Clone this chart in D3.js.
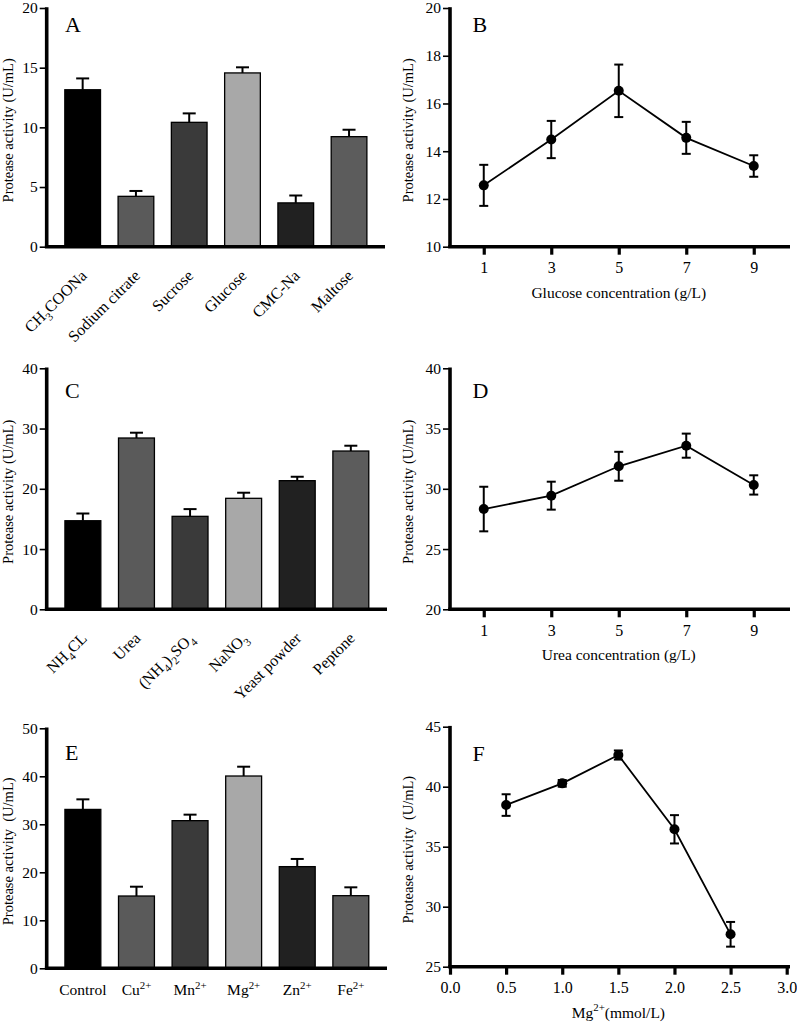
<!DOCTYPE html>
<html><head><meta charset="utf-8">
<script src="https://cdn.jsdelivr.net/npm/d3@7"></script>
<style>body{margin:0;background:#fff}</style>
</head><body><svg id="c" width="797" height="1028"></svg>
<script>
// ---------- DATA ----------
const carbonSources = ["CH_{3}COONa", "Sodium citrate", "Sucrose", "Glucose", "CMC-Na", "Maltose"];
const carbonActivity = [13.15, 4.22, 10.42, 14.56, 3.67, 9.22];
const carbonError = [0.95, 0.45, 0.75, 0.47, 0.62, 0.58];

const glucoseConc = [1, 3, 5, 7, 9];
const glucoseActivity = [12.57, 14.49, 16.53, 14.56, 13.38];
const glucoseError = [0.86, 0.78, 1.1, 0.67, 0.45];

const nitrogenSources = ["NH_{4}CL", "Urea", "(NH_{4})_{2}SO_{4}", "NaNO_{3}", "Yeast powder", "Peptone"];
const nitrogenActivity = [14.7, 28.43, 15.43, 18.42, 21.35, 26.27];
const nitrogenError = [1.2, 0.88, 1.2, 0.93, 0.65, 0.88];

const ureaConc = [1, 3, 5, 7, 9];
const ureaActivity = [28.32, 29.43, 31.87, 33.58, 30.32];
const ureaError = [1.85, 1.16, 1.2, 1.0, 0.8];

const metalIons = ["Control", "Cu^{2+}", "Mn^{2+}", "Mg^{2+}", "Zn^{2+}", "Fe^{2+}"];
const metalActivity = [33.1, 15.06, 30.76, 40.06, 21.18, 15.13];
const metalError = [2.1, 1.94, 1.25, 1.94, 1.6, 1.74];

const mgConc = [0.5, 1.0, 1.5, 2.0, 2.5];
const mgActivity = [38.47, 40.28, 42.64, 36.45, 27.7];
const mgError = [0.9, 0.28, 0.38, 1.18, 1.03];

const ticksA = [0, 5, 10, 15, 20];
const ticksBy = [10, 12, 14, 16, 18, 20];
const ticksBx = [1, 3, 5, 7, 9];
const ticksC = [0, 10, 20, 30, 40];
const ticksDy = [20, 25, 30, 35, 40];
const ticksDx = [1, 3, 5, 7, 9];
const ticksE = [0, 10, 20, 30, 40, 50];
const ticksFy = [25, 30, 35, 40, 45];
const ticksFx = [0, 0.5, 1.0, 1.5, 2.0, 2.5, 3.0];

const barColors = ["#000000", "#5a5a5a", "#3a3a3a", "#a8a8a8", "#212121", "#5c5c5c"];

// ---------- DRAWING ----------
const FONT = "'Liberation Serif','Times New Roman',serif";
const svg = d3.select('#c').attr('font-family', FONT);
svg.append('rect').attr('width', 797).attr('height', 1028).attr('fill', '#fff');

function rich(text, str, size) {
  const parts = [];
  const re = /([_^])\{([^}]*)\}/g;
  let last = 0, m;
  while ((m = re.exec(str))) {
    if (m.index > last) parts.push({ t: str.slice(last, m.index), k: 'n' });
    parts.push({ t: m[2], k: m[1] === '_' ? 'sub' : 'sup' });
    last = re.lastIndex;
  }
  if (last < str.length) parts.push({ t: str.slice(last), k: 'n' });
  let cur = 0;
  parts.forEach(p => {
    const off = p.k === 'sub' ? size * 0.3 : p.k === 'sup' ? -size * 0.42 : 0;
    const ts = text.append('tspan').text(p.t).attr('dy', off - cur);
    if (p.k !== 'n') ts.attr('font-size', size * 0.7);
    cur = off;
  });
}

function yAxis(g, y, x0, ticks) {
  const a = g.append('g').attr('transform', `translate(${x0},0)`)
    .call(d3.axisLeft(y).tickValues(ticks).tickSize(7).tickPadding(2).tickFormat(d3.format('d')));
  a.select('.domain').remove();
  a.selectAll('line').attr('stroke', '#000').attr('stroke-width', 1.6);
  a.selectAll('text').attr('font-size', 15.5).attr('font-family', FONT).attr('fill', '#000');
}

function axisLines(g, x0, x1, yTop, yBot) {
  g.append('line').attr('x1', x0).attr('x2', x0).attr('y1', yTop - 0.8).attr('y2', yBot)
    .attr('stroke', '#000').attr('stroke-width', 3.6);
  g.append('line').attr('x1', x0 - 1.8).attr('x2', x1).attr('y1', yBot).attr('y2', yBot)
    .attr('stroke', '#000').attr('stroke-width', 3.6);
}

function yTitle(g, x, cy, txt) {
  g.append('text').attr('transform', `translate(${x},${cy}) rotate(-90)`)
    .attr('text-anchor', 'middle').attr('font-size', 14.5).style('white-space', 'pre').text(txt);
}

function letter(g, x, y, t) {
  g.append('text').attr('x', x).attr('y', y).attr('font-size', 22).text(t);
}

function barPanel(o) {
  const g = svg.append('g');
  const x = d3.scaleBand().domain(o.cats).range([o.x0, o.x1]).paddingInner(0.33).paddingOuter(0.34);
  const y = d3.scaleLinear().domain(o.yDomain).range([o.yBot, o.yTop]);
  const data = o.cats.map((c, i) => ({ c, v: o.values[i], e: o.errors[i], col: barColors[i] }));
  g.selectAll('rect.bar').data(data).join('rect').attr('class', 'bar')
    .attr('x', d => x(d.c)).attr('y', d => y(d.v)).attr('width', x.bandwidth())
    .attr('height', d => y(o.yDomain[0]) - y(d.v))
    .attr('fill', d => d.col).attr('stroke', '#000').attr('stroke-width', 1.3);
  const cx = d => x(d.c) + x.bandwidth() / 2;
  g.selectAll('line.ev').data(data).join('line').attr('class', 'ev')
    .attr('x1', cx).attr('x2', cx).attr('y1', d => y(d.v)).attr('y2', d => y(d.v + d.e))
    .attr('stroke', '#000').attr('stroke-width', 2);
  g.selectAll('line.ec').data(data).join('line').attr('class', 'ec')
    .attr('x1', d => cx(d) - 6.5).attr('x2', d => cx(d) + 6.5).attr('y1', d => y(d.v + d.e)).attr('y2', d => y(d.v + d.e))
    .attr('stroke', '#000').attr('stroke-width', 2);
  yAxis(g, y, o.x0, o.yTicks);
  axisLines(g, o.x0, o.x1, o.yTop, o.yBot);
  // category labels
  data.forEach(d => {
    let t;
    if (o.rotate) {
      const ax = cx(d) + 5, ay = o.yBot + 30;
      t = g.append('text').attr('x', ax).attr('y', ay).attr('text-anchor', 'end')
        .attr('transform', `rotate(-45,${ax},${ay})`).attr('font-size', 16);
      rich(t, d.c, 16);
    } else {
      t = g.append('text').attr('x', cx(d)).attr('y', o.yBot + 27).attr('text-anchor', 'middle').attr('font-size', 15.5);
      rich(t, d.c, 15.5);
    }
  });
  yTitle(g, o.titleX, (o.yTop + o.yBot) / 2 + 3, o.yTitle);
  letter(g, o.lx, o.ly, o.letter);
}

function linePanel(o) {
  const g = svg.append('g');
  const x = d3.scaleLinear().domain(o.xDomain).range([o.x0, o.xr]);
  const y = d3.scaleLinear().domain(o.yDomain).range([o.yBot, o.yTop]);
  const data = o.xs.map((xv, i) => ({ x: xv, v: o.values[i], e: o.errors[i] }));
  g.append('path').datum(data).attr('fill', 'none').attr('stroke', '#000').attr('stroke-width', 1.8)
    .attr('d', d3.line().x(d => x(d.x)).y(d => y(d.v)));
  g.selectAll('line.ev').data(data).join('line').attr('class', 'ev')
    .attr('x1', d => x(d.x)).attr('x2', d => x(d.x)).attr('y1', d => y(d.v - d.e)).attr('y2', d => y(d.v + d.e))
    .attr('stroke', '#000').attr('stroke-width', 2);
  ['-', '+'].forEach(s => {
    g.selectAll('line.c' + (s === '-' ? 'lo' : 'hi')).data(data).join('line')
      .attr('x1', d => x(d.x) - 4.5).attr('x2', d => x(d.x) + 4.5)
      .attr('y1', d => y(s === '-' ? d.v - d.e : d.v + d.e)).attr('y2', d => y(s === '-' ? d.v - d.e : d.v + d.e))
      .attr('stroke', '#000').attr('stroke-width', 2);
  });
  g.selectAll('circle').data(data).join('circle')
    .attr('cx', d => x(d.x)).attr('cy', d => y(d.v)).attr('r', 5).attr('fill', '#000');
  yAxis(g, y, o.x0, o.yTicks);
  // x axis
  const xa = g.append('g').attr('transform', `translate(0,${o.yBot})`)
    .call(d3.axisBottom(x).tickValues(o.xTicks).tickSize(8).tickPadding(7).tickFormat(o.xFormat));
  xa.select('.domain').remove();
  xa.selectAll('line').attr('stroke', '#000').attr('stroke-width', 3.2);
  xa.selectAll('text').attr('font-size', 16).attr('font-family', FONT).attr('fill', '#000');
  axisLines(g, o.x0, o.x1, o.yTop, o.yBot);
  const tt = g.append('text').attr('x', (o.x0 + o.xr) / 2).attr('y', o.yBot + 51)
    .attr('text-anchor', 'middle').attr('font-size', 15.5);
  rich(tt, o.xTitle, 15.5);
  yTitle(g, o.titleX, (o.yTop + o.yBot) / 2 + 3, o.yTitle);
  letter(g, o.lx, o.ly, o.letter);
}

barPanel({ cats: carbonSources, values: carbonActivity, errors: carbonError, yDomain: [0, 20], yTicks: ticksA,
  x0: 46.7, x1: 385, yTop: 8, yBot: 246.7, rotate: true, titleX: 13, yTitle: 'Protease activity (U/mL)',
  letter: 'A', lx: 65, ly: 32 });

linePanel({ xs: glucoseConc, values: glucoseActivity, errors: glucoseError, xDomain: [0, 10], yDomain: [10, 20],
  yTicks: ticksBy, xTicks: ticksBx, xFormat: d3.format('d'), x0: 450, xr: 787.5, x1: 790, yTop: 8, yBot: 246.7,
  xTitle: 'Glucose concentration (g/L)', titleX: 413, yTitle: 'Protease activity (U/mL)', letter: 'B', lx: 472.5, ly: 31.7 });

barPanel({ cats: nitrogenSources, values: nitrogenActivity, errors: nitrogenError, yDomain: [0, 40], yTicks: ticksC,
  x0: 46.7, x1: 387, yTop: 368.3, yBot: 609.3, rotate: true, titleX: 13, yTitle: 'Protease activity (U/mL)',
  letter: 'C', lx: 65, ly: 398 });

linePanel({ xs: ureaConc, values: ureaActivity, errors: ureaError, xDomain: [0, 10], yDomain: [20, 40],
  yTicks: ticksDy, xTicks: ticksDx, xFormat: d3.format('d'), x0: 450, xr: 787.5, x1: 790, yTop: 368.3, yBot: 609.3,
  xTitle: 'Urea concentration (g/L)', titleX: 413, yTitle: 'Protease activity (U/mL)', letter: 'D', lx: 472.5, ly: 398 });

barPanel({ cats: metalIons, values: metalActivity, errors: metalError, yDomain: [0, 50], yTicks: ticksE,
  x0: 46.7, x1: 387, yTop: 728.3, yBot: 968.3, rotate: false, titleX: 13, yTitle: 'Protease activity  (U/mL)',
  letter: 'E', lx: 65, ly: 760 });

linePanel({ xs: mgConc, values: mgActivity, errors: mgError, xDomain: [0, 3], yDomain: [25, 45],
  yTicks: ticksFy, xTicks: ticksFx, xFormat: d3.format('.1f'), x0: 450, xr: 786.7, x1: 790, yTop: 726.7, yBot: 966.7,
  xTitle: 'Mg^{2+}(mmol/L)', titleX: 413, yTitle: 'Protease activity  (U/mL)', letter: 'F', lx: 472.5, ly: 760.7 });
</script>
</body></html>
